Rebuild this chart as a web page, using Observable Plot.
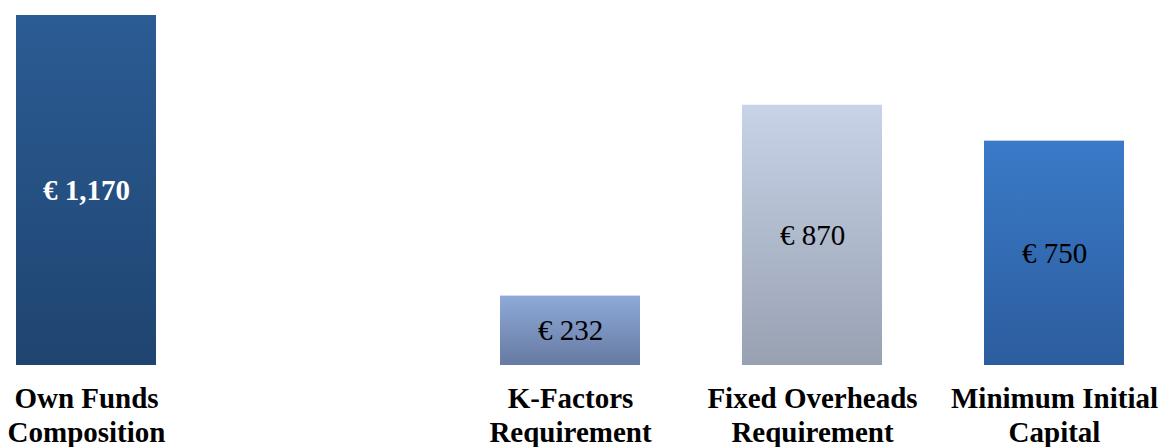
<!DOCTYPE html>
<html>
<head>
<meta charset="utf-8">
<script src="https://cdn.jsdelivr.net/npm/d3@7"></script>
<script src="https://cdn.jsdelivr.net/npm/@observablehq/plot@0.6"></script>
<style>
  html, body { margin: 0; padding: 0; background: #fff; }
  #chart { width: 1162px; height: 447px; }
</style>
</head>
<body>
<div id="chart"></div>
<script>
const categories = ["Own Funds\nComposition", "gap", "K-Factors\nRequirement", "Fixed Overheads\nRequirement", "Minimum Initial\nCapital"];
const barCategories = ["Own Funds\nComposition", "K-Factors\nRequirement", "Fixed Overheads\nRequirement", "Minimum Initial\nCapital"];
const values = [1170, 232, 870, 750];
const valueLabels = ["€ 1,170", "€ 232", "€ 870", "€ 750"];
const gradientTop = ["#2b5c94", "#8eaad8", "#c8d3e8", "#3a7ac8"];
const gradientBottom = ["#1f4470", "#667aa2", "#98a1b2", "#2c5d9e"];

const data = barCategories.map((c, i) => ({cat: c, value: values[i], label: valueLabels[i], idx: i}));

const plot = Plot.plot({
  width: 1162,
  height: 447,
  marginLeft: 0,
  marginRight: 22,
  marginTop: 15,
  marginBottom: 82,
  style: {background: "#fff", fontFamily: "'Liberation Serif', 'Times New Roman', serif"},
  x: {domain: categories, paddingInner: 0.4227, paddingOuter: 0.062, axis: null},
  y: {domain: [0, 1170], axis: null},
  marks: [
    Plot.barY(data, {x: "cat", y: "value", fill: d => `url(#grad${d.idx})`}),
    Plot.text(data.filter(d => d.idx === 0), {x: "cat", y: d => d.value / 2, text: "label", fill: "#fff", fontWeight: "bold", fontSize: 29}),
    Plot.text(data.filter(d => d.idx !== 0), {x: "cat", y: d => d.value / 2, text: "label", fill: "#000", fontSize: 29}),
    Plot.text(barCategories, {x: d => d, y: () => 0, text: d => d, fill: "#000", fontWeight: "bold", fontSize: 29, lineAnchor: "top", lineHeight: 1.17, dy: 18})
  ]
});

const ns = "http://www.w3.org/2000/svg";
const defs = document.createElementNS(ns, "defs");
gradientTop.forEach((top, i) => {
  const g = document.createElementNS(ns, "linearGradient");
  g.setAttribute("id", "grad" + i);
  g.setAttribute("x1", "0"); g.setAttribute("y1", "0");
  g.setAttribute("x2", "0"); g.setAttribute("y2", "1");
  const s1 = document.createElementNS(ns, "stop");
  s1.setAttribute("offset", "0"); s1.setAttribute("stop-color", top);
  const s2 = document.createElementNS(ns, "stop");
  s2.setAttribute("offset", "1"); s2.setAttribute("stop-color", gradientBottom[i]);
  g.appendChild(s1); g.appendChild(s2);
  defs.appendChild(g);
});
plot.insertBefore(defs, plot.firstChild);
document.getElementById("chart").appendChild(plot);
</script>
</body>
</html>
